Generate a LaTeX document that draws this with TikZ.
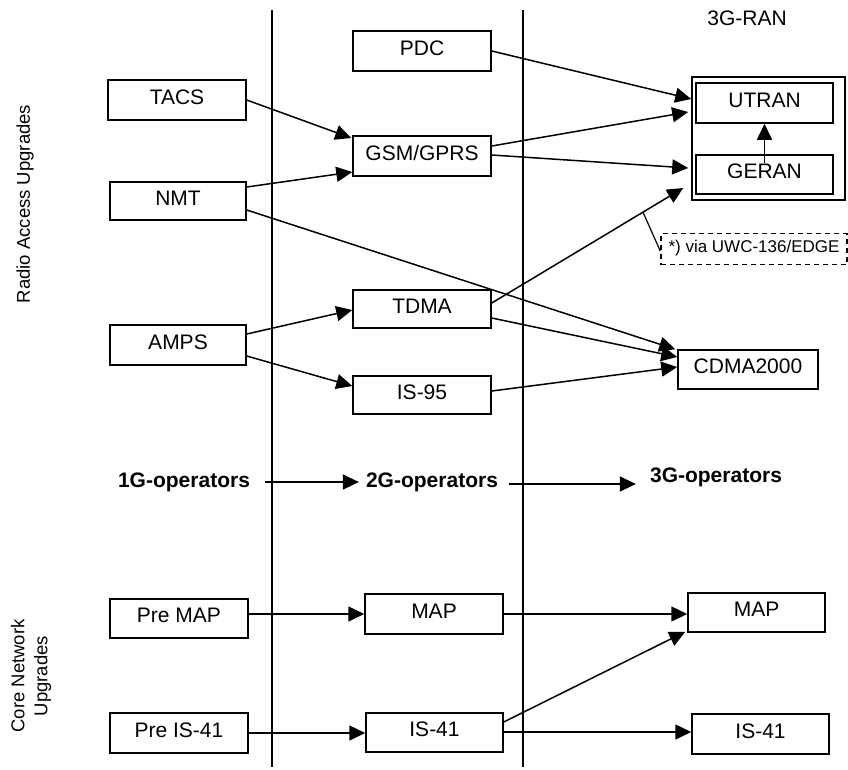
\documentclass[tikz,border=0pt]{standalone}
\usepackage{fontspec}
\setmainfont{Liberation Sans}
\usetikzlibrary{arrows.meta,calc}
\begin{document}
\begin{tikzpicture}[x=1pt,y=-1pt,
  box/.style={draw, line width=1.5pt, minimum width=138pt, minimum height=40pt, inner sep=0pt,
    text height=15pt, text depth=7pt, font=\fontsize{21}{25}\selectfont},
  arr/.style={line width=1.5pt, -{Triangle[length=16pt,width=15pt]}},
  sep/.style={line width=1.5pt},
  oplabel/.style={inner sep=0pt, font=\bfseries\fontsize{21}{25}\selectfont},
  sidelabel/.style={rotate=90, align=center, inner sep=0pt, font=\fontsize{18.5}{23}\selectfont},
  note/.style={draw, dashed, dash pattern=on 5pt off 4pt, line width=1.5pt, minimum width=186pt,
    minimum height=31pt, inner sep=0pt, text height=12pt, text depth=5pt, font=\fontsize{17}{20}\selectfont}
]
\useasboundingbox (0,0) rectangle (848,769);
\fill[white] (0,0) rectangle (848,769);

% separators
\coordinate (s1t) at (272,10); \coordinate (s1b) at (272,767);
\coordinate (s2t) at (523,10); \coordinate (s2b) at (523,767);
\draw[sep] (s1t) -- (s1b);
\draw[sep] (s2t) -- (s2b);

% side labels
\node[sidelabel] (ra) at (25,204) {Radio Access Upgrades};
\node[sidelabel] (cn) at (31,676) {Core Network\\Upgrades};

% radio access nodes
\node[box] (pdc) at (422,51) {PDC};
\node[box] (tacs) at (177,100) {TACS};
\node[box] (gsm) at (422,156) {GSM/GPRS};
\node[box, minimum width=136pt, minimum height=38pt] (nmt) at (178,201) {NMT};
\node[box, minimum height=38pt] (tdma) at (422,309) {TDMA};
\node[box, minimum width=136pt] (amps) at (178,345) {AMPS};
\node[box, minimum height=38pt] (is95) at (422,395) {IS-95};
\node[box, minimum width=140pt, minimum height=39pt] (cdma) at (748,369.5) {CDMA2000};

% 3G-RAN
\node[font=\fontsize{21}{25}\selectfont, inner sep=0pt] (ranlabel) at (747,18) {3G-RAN};
\node[draw, line width=1.6pt, minimum width=153pt, minimum height=123pt, inner sep=0pt] (ran) at (768.5,138.5) {};
\node[box, minimum width=137pt] (utran) at (764.5,103) {UTRAN};
\node[box, minimum width=137pt, minimum height=39pt] (geran) at (764.5,174.5) {GERAN};
\node[note] (nt) at (754,249) {*) via UWC-136/EDGE};

% operators row
\node[oplabel] (g1) at (184,482) {1G-operators};
\node[oplabel] (g2) at (432,482) {2G-operators};
\node[oplabel] (g3) at (716,477) {3G-operators};

% core network nodes
\node[box, minimum height=39pt] (premap) at (179,618.5) {Pre MAP};
\node[box] (map2) at (434,614) {MAP};
\node[box, minimum width=137pt, minimum height=39pt] (map3) at (756.5,612.5) {MAP};
\node[box] (preis) at (179,733) {Pre IS-41};
\node[box, minimum width=137pt, minimum height=39pt] (is41m) at (434.5,732.5) {IS-41};
\node[box, minimum width=137pt] (is41r) at (760.5,734) {IS-41};

% connectors - radio access
\draw[arr] (pdc.east) -- ([yshift=39.5pt]ran.west);
\draw[arr] ([yshift=10pt]gsm.east) -- ([xshift=-3pt,yshift=26.5pt]ran.west);
\draw[arr] ([yshift=1pt]gsm.east) -- ([xshift=-3pt,yshift=-29.5pt]ran.west);
\draw[arr] ([yshift=6pt]tdma.east) -- coordinate[pos=0.79] (lead) ([xshift=-8pt,yshift=-49.5pt]ran.west);
\draw[line width=1.2pt] (lead) -- ([yshift=-2pt]nt.west);
\draw[arr] ([yshift=11.5pt]geran.center) -- (utran.south);
\draw[arr] (tacs.east) -- ([xshift=-1pt,yshift=18pt]gsm.west);
\draw[arr] ([yshift=14pt]nmt.east) -- ([yshift=-16pt]gsm.west);
\draw[arr] ([yshift=-9pt]nmt.east) -- ([xshift=-2pt]cdma.north west);
\draw[arr] ([yshift=11pt]amps.east) -- ([yshift=-1pt]tdma.west);
\draw[arr] ([yshift=-11pt]amps.east) -- ([yshift=9pt]is95.west);
\draw[arr] ([yshift=-9pt]tdma.east) -- ([yshift=12.5pt]cdma.west);
\draw[arr] ([yshift=4pt]is95.east) -- ([yshift=2.5pt]cdma.west);

% operators arrows
\draw[arr] ([xshift=15pt]g1.east) -- ([xshift=-7pt]g2.west);
\draw[arr] ([xshift=11pt,yshift=-2pt]g2.east) -- ([xshift=-14pt,yshift=-2pt]g2.east -| g3.west);

% connectors - core network
\draw[arr] ([yshift=4.5pt]premap.east) -- (map2.west);
\draw[arr] (map2.east) -- (map2.east -| map3.west);
\draw[arr] (preis.east) -- (preis.east -| is41m.west);
\draw[arr] ([yshift=0.5pt]is41m.east) -- ([yshift=0.5pt]is41m.east -| is41r.west);
\draw[arr] ([yshift=10.5pt]is41m.east) -- ([xshift=-2pt,yshift=1pt]map3.south west);
\end{tikzpicture}
\end{document}
